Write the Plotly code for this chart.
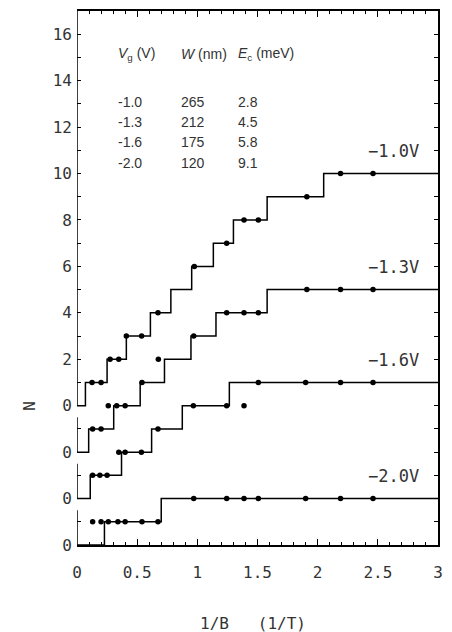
import plotly.graph_objects as go

# ---------------- data ----------------
curve_names = ["−1.0V", "−1.3V", "−1.6V", "−2.0V"]
curve_offsets = [0, -2, -4, -6]          # vertical offset of each trace on the N axis

steps_m10 = [0.07, 0.25, 0.41, 0.61, 0.78, 0.953, 1.133, 1.30, 1.58, 2.05]
steps_m13 = [0.097, 0.305, 0.525, 0.727, 0.947, 1.155, 1.58]
steps_m16 = [0.11, 0.37, 0.62, 0.875, 1.266]
steps_m20 = [0.228, 0.70]

dots_x_m10 = [0.125, 0.20, 0.275, 0.347, 0.41, 0.537, 0.673, 0.975, 1.244, 1.388, 1.507, 1.91, 2.19, 2.46]
dots_n_m10 = [1, 1, 2, 2, 3, 3, 4, 6, 7, 8, 8, 9, 10, 10]

dots_x_m13 = [0.13, 0.20, 0.26, 0.33, 0.40, 0.54, 0.676, 0.97, 1.244, 1.388, 1.507, 1.91, 2.19, 2.46]
dots_n_m13 = [1, 1, 2, 2, 2, 3, 4, 5, 6, 6, 6, 7, 7, 7]

dots_x_m16 = [0.13, 0.19, 0.25, 0.347, 0.40, 0.535, 0.673, 0.967, 1.244, 1.388, 1.507, 1.90, 2.19, 2.46]
dots_n_m16 = [1, 1, 1, 2, 2, 2, 3, 4, 4, 4, 5, 5, 5, 5]

dots_x_m20 = [0.13, 0.20, 0.26, 0.34, 0.40, 0.54, 0.673, 0.97, 1.244, 1.388, 1.507, 1.90, 2.19, 2.46]
dots_n_m20 = [1, 1, 1, 1, 1, 1, 1, 2, 2, 2, 2, 2, 2, 2]

table_vg = ["-1.0", "-1.3", "-1.6", "-2.0"]
table_w = ["265", "212", "175", "120"]
table_ec = ["2.8", "4.5", "5.8", "9.1"]

x_tick_vals = [0, 0.5, 1, 1.5, 2, 2.5, 3]
x_tick_text = ["0", "0.5", "1", "1.5", "2", "2.5", "3"]

y_tick_vals = [-6, -4, -2, 0, 2, 4, 6, 8, 10, 12, 14, 16]
y_tick_text = ["0", "0", "0", "0", "2", "4", "6", "8", "10", "12", "14", "16"]

# --------------- figure ---------------
steps_all = [steps_m10, steps_m13, steps_m16, steps_m20]
dots_x_all = [dots_x_m10, dots_x_m13, dots_x_m16, dots_x_m20]
dots_n_all = [dots_n_m10, dots_n_m13, dots_n_m16, dots_n_m20]

X_MAX = 3
MONO = "DejaVu Sans Mono"
SANS = "Liberation Sans"

fig = go.Figure()
annotations = []
shapes = []

for name, off, steps, dx, dn in zip(curve_names, curve_offsets, steps_all, dots_x_all, dots_n_all):
    xs = [0] + steps + [X_MAX]
    ys = [off + n for n in range(len(steps) + 1)] + [off + len(steps)]
    fig.add_trace(go.Scatter(x=xs, y=ys, mode="lines", line=dict(color="black", width=1.5, shape="hv"),
                             hoverinfo="skip", showlegend=False))
    fig.add_trace(go.Scatter(x=dx, y=[off + n for n in dn], mode="markers",
                             marker=dict(color="black", size=5.5, symbol="circle"),
                             showlegend=False, name=name))
    top = off + len(steps)
    annotations.append(dict(x=2.86, y=top + 0.45, xref="x", yref="y", text=name, showarrow=False,
                            xanchor="right", yanchor="bottom", font=dict(family=MONO, size=17, color="#333")))
    # broken left axis segment for each trace
    seg_top = 17 if off == 0 else off + 1.5
    shapes.append(dict(type="line", xref="x", yref="y", x0=0, x1=0, y0=off, y1=seg_top,
                       line=dict(color="black", width=1.5)))

# invisible trace for the right (mirror) axis
fig.add_trace(go.Scatter(x=[0], y=[0], yaxis="y2", mode="markers", marker=dict(opacity=0),
                         hoverinfo="skip", showlegend=False))

# table in the upper left
col_x = [0.32, 0.85, 1.32]
headers = ["<i>V</i><sub>g</sub> (V)", "<i>W</i> (nm)", "<i>E</i><sub>c</sub> (meV)"]
for cx, h in zip(col_x, headers):
    annotations.append(dict(x=cx, y=15.15, xref="x", yref="y", text=h, showarrow=False, xanchor="left",
                            yanchor="middle", font=dict(family=SANS, size=14, color="#333")))
row_y = [13.09, 12.23, 11.34, 10.44]
for ry, a, b, c in zip(row_y, table_vg, table_w, table_ec):
    for cx, t in zip(col_x, [a, b, c]):
        annotations.append(dict(x=cx, y=ry, xref="x", yref="y", text=t, showarrow=False, xanchor="left",
                                yanchor="middle", font=dict(family=SANS, size=14, color="#333")))

# axis titles
annotations.append(dict(x=-0.13, y=0, xref="paper", yref="y", text="N", textangle=-90, showarrow=False,
                        xanchor="center", yanchor="middle", font=dict(family=MONO, size=16, color="#333")))
annotations.append(dict(x=0.4875, y=-0.147, xref="paper", yref="paper", text="1/B   (1/T)", showarrow=False,
                        xanchor="center", yanchor="middle", font=dict(family=MONO, size=16, color="#333")))

all_int = list(range(-6, 17))

# page body has an 8px margin, so the figure is 8px smaller than the window
fig.update_layout(
    width=444, height=624,
    margin=dict(l=69, r=14, t=1, b=87),
    paper_bgcolor="white", plot_bgcolor="white",
    showlegend=False,
    annotations=annotations,
    shapes=shapes,
    xaxis=dict(range=[0, 3], showgrid=False, zeroline=False, showline=True, linecolor="black", linewidth=1.5,
               mirror="ticks", ticks="inside", ticklen=6, tickwidth=1, tickcolor="black",
               tickvals=x_tick_vals, ticktext=x_tick_text, ticklabelstandoff=12,
               tickfont=dict(family=MONO, size=16, color="#333")),
    yaxis=dict(range=[-6, 17], showgrid=False, zeroline=False, showline=False,
               ticks="inside", ticklen=4, tickwidth=1, tickcolor="black",
               tickvals=y_tick_vals, ticktext=y_tick_text, ticklabelstandoff=4,
               tickfont=dict(family=MONO, size=16, color="#333"),
               minor=dict(tickvals=[v for v in all_int if v % 2], ticks="inside", ticklen=4,
                          tickcolor="black", showgrid=False)),
    yaxis2=dict(range=[-6, 17], overlaying="y", side="right", showgrid=False, zeroline=False,
                showline=True, linecolor="black", linewidth=1.5, ticks="inside", ticklen=4,
                tickcolor="black", tickvals=all_int, showticklabels=False),
)
fig.update_xaxes(minor=dict(dtick=0.1, ticks="inside", ticklen=3, tickcolor="black", showgrid=False))

fig.write_html("out.html")
